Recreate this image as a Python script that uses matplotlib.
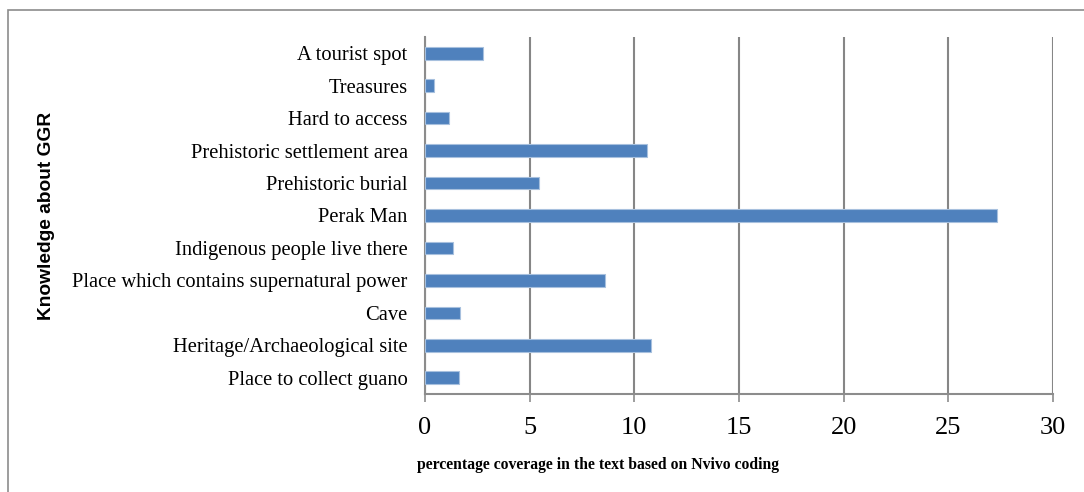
import matplotlib
matplotlib.use("Agg")
import matplotlib.pyplot as plt
from matplotlib.patches import Rectangle

categories = [
    "Place to collect guano",
    "Heritage/Archaeological site",
    "Cave",
    "Place which contains supernatural power",
    "Indigenous people live there",
    "Perak Man",
    "Prehistoric burial",
    "Prehistoric settlement area",
    "Hard to access",
    "Treasures",
    "A tourist spot",
]
values = [1.64, 10.80, 1.69, 8.60, 1.35, 27.33, 5.43, 10.61, 1.16, 0.43, 2.76]
xticks = [0, 5, 10, 15, 20, 25, 30]

W, H = 1084, 492
fig = plt.figure(figsize=(W / 100, H / 100), dpi=100)
fig.patch.set_facecolor("white")

# outer chart frame (extends beyond right/bottom edges)
fig.patches.append(Rectangle((8 / W, -0.05), 1.2, 1 - 10 / H + 0.05,
                             transform=fig.transFigure, fill=False,
                             edgecolor="#8c8c8c", linewidth=1.2))

ax = fig.add_axes([425 / W, 1 - 394 / H, (1053 - 425) / W, (394 - 37) / H])
ypos = list(range(len(categories)))
ax.barh(ypos, values, height=0.39, color="#4F81BD", edgecolor="#A7C0DE",
        linewidth=0.8, zorder=3)
ax.set_xlim(0, 30)
ax.set_ylim(-0.5, len(categories) - 0.5)
ax.set_xticks(xticks)
ax.set_xticklabels([str(t) for t in xticks], fontfamily="Liberation Serif",
                   fontsize=19)
ax.set_yticks(ypos)
ax.set_yticklabels(categories, fontfamily="Liberation Serif", fontsize=14.8)
ax.tick_params(axis="y", length=0, pad=12.5)
ax.tick_params(axis="x", length=6, width=1.2, color="#8c8c8c", pad=10.5,
               direction="out")
ax.grid(axis="x", color="#868686", linewidth=1.5, zorder=0)
for s in ["top", "right"]:
    ax.spines[s].set_visible(False)
for s in ["left", "bottom"]:
    ax.spines[s].set_color("#8c8c8c")
    ax.spines[s].set_linewidth(1.5)

fig.text(598 / W, 1 - 465 / H,
         "percentage coverage in the text based on Nvivo coding",
         ha="center", va="center", fontfamily="Liberation Serif",
         fontweight="bold", fontsize=11.3)
fig.text(47 / W, 1 - 216 / H, "Knowledge about GGR", rotation=90,
         ha="center", va="center", fontfamily="Liberation Sans",
         fontweight="bold", fontsize=13.8)

fig.savefig("out.png", dpi=100, facecolor="white")
